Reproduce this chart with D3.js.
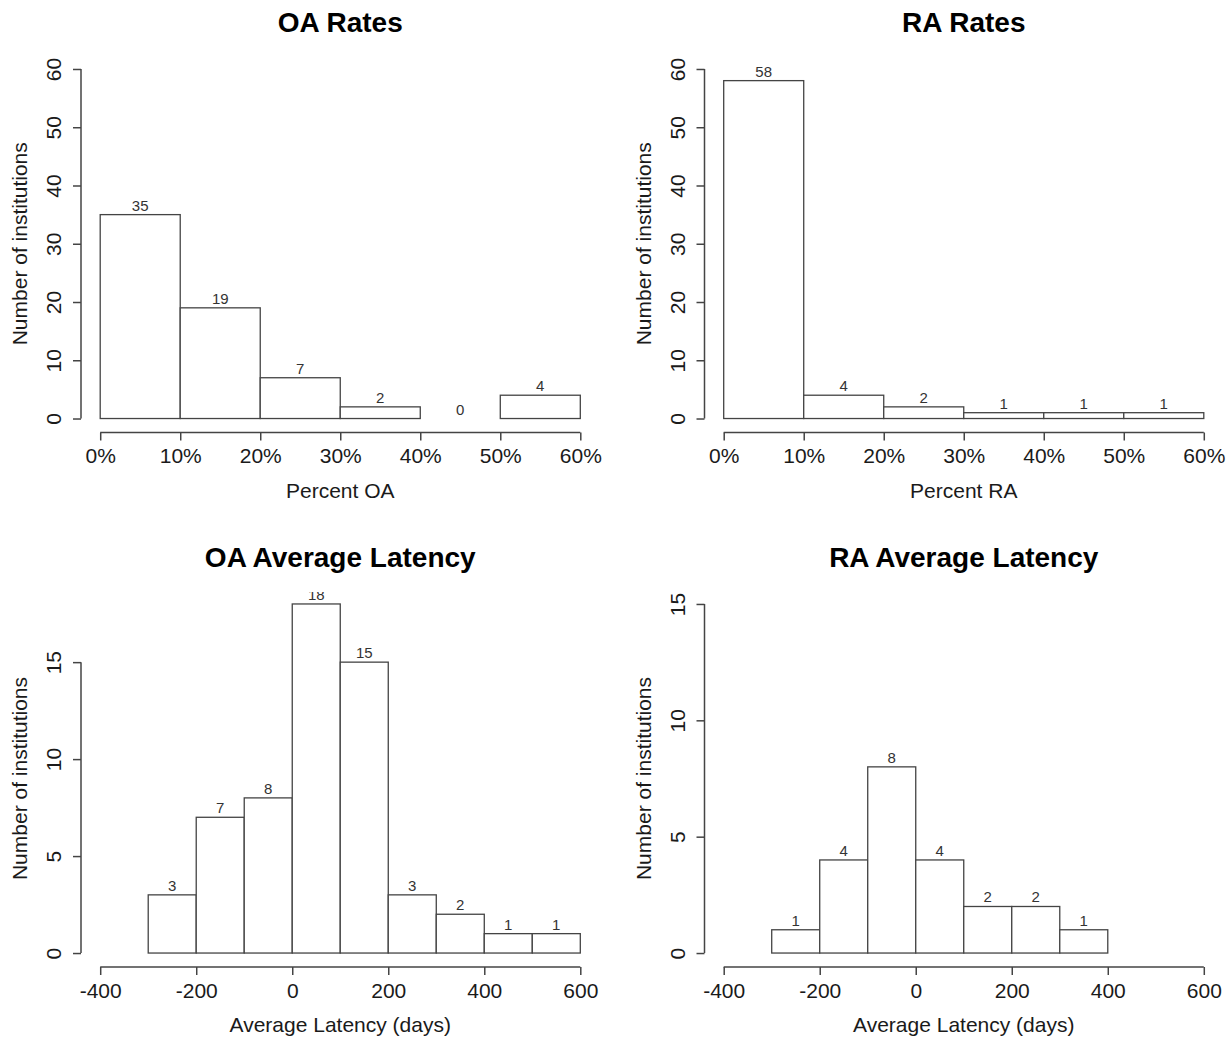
<!DOCTYPE html>
<html>
<head>
<meta charset="utf-8">
<script src="https://cdn.jsdelivr.net/npm/d3@7"></script>
<style>
    body { margin: 0; background: #fff; }
    text { font-family: "Liberation Sans", Arial, sans-serif; fill: #1a1a1a; }
</style>
</head>
<body>
<script>
// histogram data
const rateBreaks = [0, 10, 20, 30, 40, 50, 60];
const oaRateCounts = [35, 19, 7, 2, 0, 4];
const raRateCounts = [58, 4, 2, 1, 1, 1];
const rateTicksX = [0, 10, 20, 30, 40, 50, 60];
const rateTicksY = [0, 10, 20, 30, 40, 50, 60];

const oaLatBreaks = [-300, -200, -100, 0, 100, 200, 300, 400, 500, 600];
const oaLatCounts = [3, 7, 8, 18, 15, 3, 2, 1, 1];
const raLatBreaks = [-300, -200, -100, 0, 100, 200, 300, 400];
const raLatCounts = [1, 4, 8, 4, 2, 2, 1];
const latTicksX = [-400, -200, 0, 200, 400, 600];
const latTicksY = [0, 5, 10, 15];

const titles = ["OA Rates", "RA Rates", "OA Average Latency", "RA Average Latency"];
const xLabels = ["Percent OA", "Percent RA", "Average Latency (days)", "Average Latency (days)"];
const yLabel = "Number of institutions";

width = 1227;
height = 1040;

svg = d3.select("body").append("svg").attr("width", width).attr("height", height);
svg.append("rect").attr("width", width).attr("height", height).attr("fill", "#fff");

// R style axis range: limits padded by 4% each side
padded = (lo, hi) => [lo - 0.04 * (hi - lo), hi + 0.04 * (hi - lo)];

const lineCol = "#444";

function drawHist(id, box, breaks, counts, xlim, ylim, ticksX, ticksY, fmtX, title, xLabel) {
    const x = d3.scaleLinear().domain(padded(xlim[0], xlim[1])).range([box.x0, box.x1]);
    const y = d3.scaleLinear().domain(padded(ylim[0], ylim[1])).range([box.y1, box.y0]);
    const g = svg.append("g");

    // clip for bar labels (R clips text to the plot region)
    svg.append("clipPath").attr("id", "clip" + id)
        .append("rect")
        .attr("x", box.x0).attr("y", box.y0 + 2)
        .attr("width", box.x1 - box.x0).attr("height", box.y1 - box.y0);

    const bins = counts.map((c, i) => ({ lo: breaks[i], hi: breaks[i + 1], n: c }));

    g.selectAll("rect.bar")
        .data(bins)
        .enter()
        .append("rect")
        .attr("class", "bar")
        .attr("x", (d) => x(d.lo))
        .attr("y", (d) => y(d.n))
        .attr("width", (d) => x(d.hi) - x(d.lo))
        .attr("height", (d) => y(0) - y(d.n))
        .attr("fill", "#fff")
        .attr("stroke", lineCol)
        .attr("stroke-width", 1.3);

    g.append("g").attr("clip-path", `url(#clip${id})`)
        .selectAll("text")
        .data(bins)
        .enter()
        .append("text")
        .attr("x", (d) => (x(d.lo) + x(d.hi)) / 2)
        .attr("y", (d) => y(d.n) - 4)
        .attr("text-anchor", "middle")
        .attr("font-size", 15)
        .style("fill", "#333")
        .text((d) => d.n);

    // x axis, drawn below the plot region
    const xAxis = d3.axisBottom(x).tickValues(ticksX).tickSize(8).tickPadding(8).tickFormat(fmtX);
    const gx = g.append("g").attr("transform", `translate(0,${box.y1})`).call(xAxis);
    gx.select(".domain").remove();
    gx.append("line")
        .attr("x1", x(ticksX[0])).attr("x2", x(ticksX[ticksX.length - 1]))
        .attr("stroke", lineCol).attr("stroke-width", 1.5);
    gx.selectAll(".tick line").attr("stroke", lineCol).attr("stroke-width", 1.5);
    gx.selectAll(".tick text").attr("font-size", 21).attr("font-family", null).style("fill", "#1a1a1a");

    // y axis, labels rotated like R's las=0
    const yAxis = d3.axisLeft(y).tickValues(ticksY).tickSize(8).tickFormat((d) => String(d));
    const gy = g.append("g").attr("transform", `translate(${box.x0},0)`).call(yAxis);
    gy.select(".domain").remove();
    gy.append("line")
        .attr("y1", y(ticksY[0])).attr("y2", y(ticksY[ticksY.length - 1]))
        .attr("stroke", lineCol).attr("stroke-width", 1.5);
    gy.selectAll(".tick line").attr("stroke", lineCol).attr("stroke-width", 1.5);
    gy.selectAll(".tick text")
        .attr("font-size", 21)
        .attr("font-family", null)
        .style("fill", "#1a1a1a")
        .attr("x", null)
        .attr("dy", null)
        .attr("text-anchor", "middle")
        .attr("transform", "translate(-20,0) rotate(-90)")
        .attr("y", 0);

    const cx = (box.x0 + box.x1) / 2;
    const cy = (box.y0 + box.y1) / 2;

    g.append("text")
        .attr("x", cx)
        .attr("y", box.y0 - 23)
        .attr("text-anchor", "middle")
        .attr("font-size", 28)
        .attr("font-weight", "bold")
        .style("fill", "#000")
        .text(title);

    g.append("text")
        .attr("x", cx)
        .attr("y", box.y1 + 65)
        .attr("text-anchor", "middle")
        .attr("font-size", 21)
        .text(xLabel);

    g.append("text")
        .attr("transform", `translate(${box.x0 - 54},${cy}) rotate(-90)`)
        .attr("text-anchor", "middle")
        .attr("font-size", 21)
        .text(yLabel);
}

pct = (d) => d + "%";
num = (d) => String(d);

const rowTop = { y0: 55, y1: 432.5 };
const rowBottom = { y0: 590, y1: 967 };
const colLeft = { x0: 81, x1: 599.5 };
const colRight = { x0: 704.5, x1: 1223 };

drawHist(0, { ...colLeft, ...rowTop }, rateBreaks, oaRateCounts, [0, 60], [0, 60], rateTicksX, rateTicksY, pct, titles[0], xLabels[0]);
drawHist(1, { ...colRight, ...rowTop }, rateBreaks, raRateCounts, [0, 60], [0, 60], rateTicksX, rateTicksY, pct, titles[1], xLabels[1]);
drawHist(2, { ...colLeft, ...rowBottom }, oaLatBreaks, oaLatCounts, [-400, 600], [0, 18], latTicksX, latTicksY, num, titles[2], xLabels[2]);
drawHist(3, { ...colRight, ...rowBottom }, raLatBreaks, raLatCounts, [-400, 600], [0, 15], latTicksX, latTicksY, num, titles[3], xLabels[3]);
</script>
</body>
</html>
